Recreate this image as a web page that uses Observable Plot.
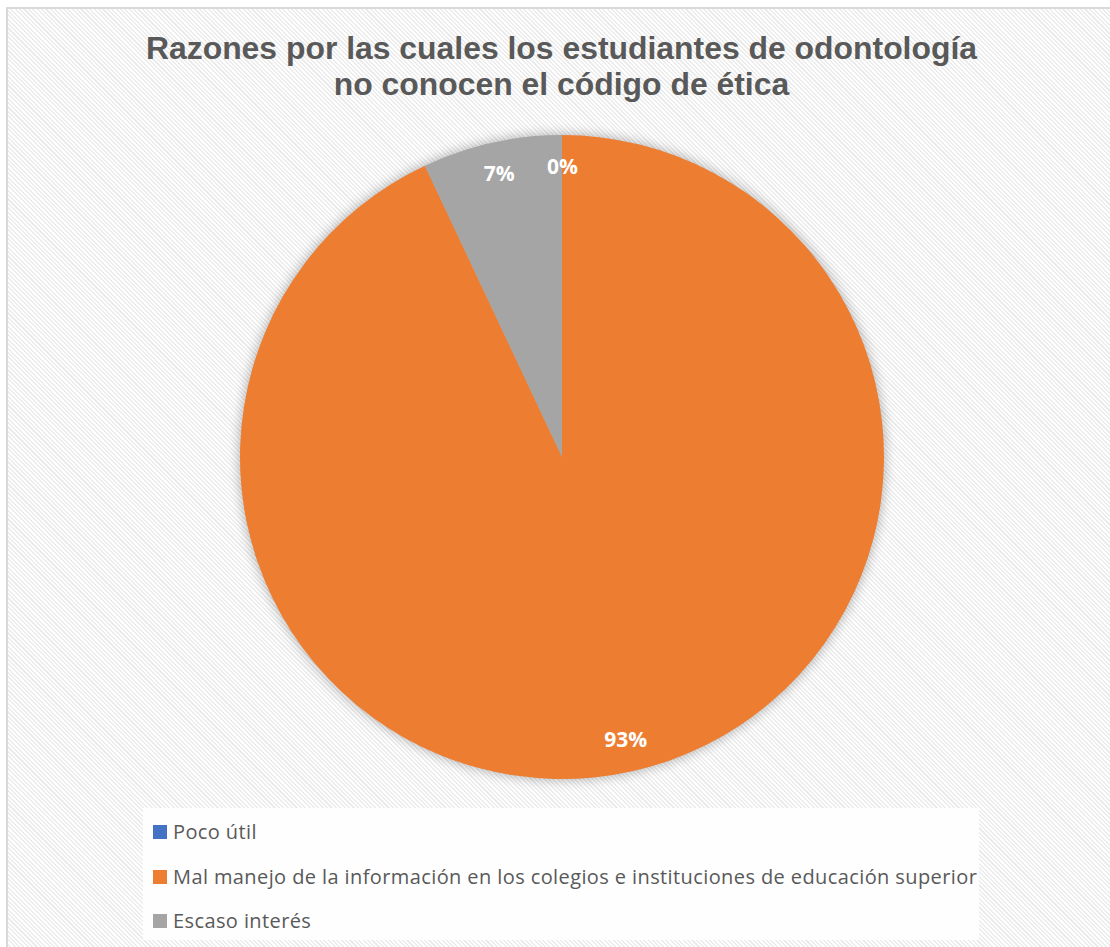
<!DOCTYPE html>
<html>
<head>
<meta charset="utf-8">
<script src="https://cdn.jsdelivr.net/npm/d3@7"></script>
<script src="https://cdn.jsdelivr.net/npm/@observablehq/plot@0.6"></script>
<style>
  html, body { margin: 0; padding: 0; background: #fff; }
  #page { position: relative; width: 1110px; height: 947px; overflow: hidden; background: #fff; }
  #frame {
    position: absolute; left: 6px; top: 7px; width: 1200px; height: 1000px;
    border-left: 2px solid #d9d9d9; border-top: 2px solid #d9d9d9;
    background: repeating-linear-gradient(45deg, #ffffff 0px, #ffffff 1.6px, #ececec 1.6px, #ececec 3.1px);
  }
  #title {
    position: absolute; left: 0; width: 1123px; top: 30px;
    text-align: center; font-family: "Liberation Sans", Arial, sans-serif;
    font-weight: bold; font-size: 31.9px; line-height: 36px; color: #595959;
  }
  #chart { position: absolute; left: 0; top: 112px; }
  #legend {
    position: absolute; left: 143px; top: 808px; width: 836px; height: 132px;
    background: rgba(255,255,255,0.88);
  }
  .row {
    position: absolute; left: 10px; height: 20px; line-height: 20px;
    font-family: "Open Sans", sans-serif; font-size: 20px; letter-spacing: 0.4px;
    color: #595959; white-space: nowrap;
  }
  .sw { position: absolute; left: 0; top: 3px; width: 14px; height: 14px; }
  .lab { position: absolute; left: 20px; top: 0; }
</style>
</head>
<body>
<div id="page">
  <div id="frame"></div>
  <div id="title">Razones por las cuales los estudiantes de odontología<br>no conocen el código de ética</div>
  <div id="chart"></div>
  <div id="legend"></div>
</div>
<script>
const categories = [
  "Poco útil",
  "Mal manejo de la información en los colegios e instituciones de educación superior",
  "Escaso interés"
];
const values = [0, 93, 7];
const labels = ["0%", "93%", "7%"];
const colors = ["#4472C4", "#ED7D31", "#A5A5A5"];

const data = categories.map((c, i) => ({category: c, value: values[i], label: labels[i], color: colors[i]}));
const arcs = d3.pie().sort(null).value(d => d.value)(data);
const labelR = 0.9;
const labelData = arcs.map(a => {
  const m = (a.startAngle + a.endAngle) / 2;
  return {label: a.data.label, lx: labelR * Math.sin(m), ly: labelR * Math.cos(m)};
});

function pieMark(index, scales) {
  const cx = scales.x(0), cy = scales.y(0), r = scales.x(1) - cx;
  const g = d3.create("svg:g");
  const f = g.append("defs").append("filter").attr("id", "pie-shadow")
    .attr("x", "-20%").attr("y", "-20%").attr("width", "140%").attr("height", "140%");
  f.append("feGaussianBlur").attr("stdDeviation", 6);
  g.append("circle").attr("cx", cx).attr("cy", cy).attr("r", r + 1)
    .attr("fill", "#000").attr("opacity", 0.28).attr("filter", "url(#pie-shadow)");
  const arc = d3.arc().innerRadius(0).outerRadius(r);
  g.append("g").attr("transform", `translate(${cx},${cy})`)
    .selectAll("path").data(arcs).join("path")
    .attr("d", arc).attr("fill", d => d.data.color);
  return g.node();
}

const top0 = 112;
const plot = Plot.plot({
  width: 1110,
  height: 690,
  margin: 0,
  x: {domain: [-1, 1], range: [240, 884], axis: null},
  y: {domain: [-1, 1], range: [779 - top0, 135 - top0], axis: null},
  style: {background: "transparent", overflow: "visible"},
  marks: [
    pieMark,
    Plot.text(labelData, {
      x: "lx", y: "ly", text: "label", fill: "white",
      fontWeight: "bold", fontSize: 21, fontFamily: "Open Sans"
    })
  ]
});
document.getElementById("chart").appendChild(plot);

const legend = d3.select("#legend");
const baselines = [839, 883.5, 928];
data.forEach((d, i) => {
  const row = legend.append("div").attr("class", "row")
    .style("top", (baselines[i] - 17 - 808) + "px");
  row.append("div").attr("class", "sw").style("background", d.color);
  row.append("span").attr("class", "lab").text(d.category);
});
</script>
</body>
</html>
